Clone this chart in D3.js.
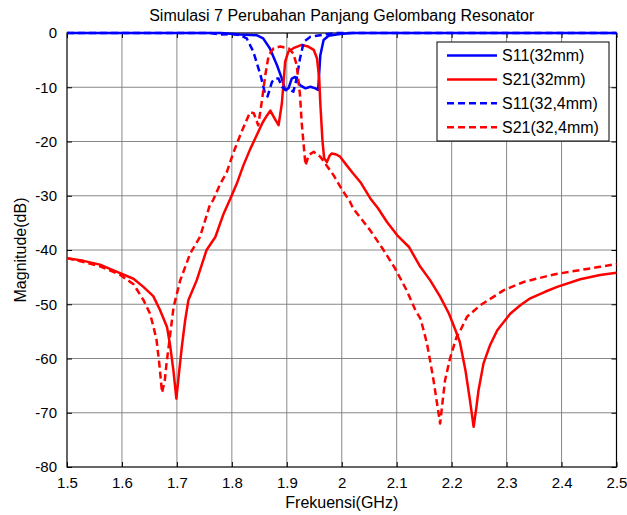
<!DOCTYPE html>
<html>
<head>
<meta charset="utf-8">
<script src="https://cdn.jsdelivr.net/npm/d3@7"></script>
<style>
  body { margin: 0; background: #fff; }
  svg { display: block; font-family: "Liberation Sans", Arial, sans-serif; }
</style>
</head>
<body>
<svg id="chart" width="627" height="515"></svg>
<script>
// Data: [frequency GHz, magnitude dB]
const s11_32 = [
  [1.500, 0], [1.780, 0], [1.815, -0.26], [1.845, -0.4], [1.857, -1.0], [1.869, -2.8],
  [1.882, -5.9], [1.891, -8.4], [1.897, -10.5], [1.903, -10.2], [1.909, -8.4], [1.915, -8.1],
  [1.924, -9.6], [1.934, -10.2], [1.943, -9.9], [1.952, -10.2], [1.957, -10.5], [1.961, -4.1],
  [1.967, -1.3], [1.976, -0.5], [1.997, -0.2], [2.020, 0], [2.500, 0]
];
const s21_32 = [
  [1.500, -41.5], [1.530, -42.0], [1.560, -42.7], [1.590, -44.0], [1.621, -45.3], [1.639, -46.8],
  [1.657, -48.5], [1.669, -51.0], [1.682, -54.2], [1.688, -57.8], [1.694, -62.5], [1.699, -67.4],
  [1.704, -62.5], [1.709, -57.8], [1.715, -53.0], [1.721, -49.2], [1.736, -45.6], [1.754, -40.0],
  [1.770, -37.6], [1.785, -33.3], [1.797, -30.6], [1.810, -27.5], [1.821, -24.4], [1.833, -21.5],
  [1.845, -18.9], [1.856, -16.5], [1.864, -15.2], [1.870, -14.3], [1.878, -15.8], [1.885, -17.0],
  [1.891, -13.0], [1.897, -5.3], [1.903, -3.4], [1.912, -2.8], [1.927, -2.2], [1.939, -2.5],
  [1.949, -3.1], [1.955, -4.7], [1.959, -8.4], [1.961, -13.0], [1.965, -20.0], [1.968, -23.1],
  [1.973, -23.8], [1.978, -22.6], [1.982, -22.2], [1.990, -22.4], [1.997, -22.8], [2.009, -24.4],
  [2.020, -25.8], [2.034, -27.5], [2.052, -30.5], [2.066, -32.3], [2.082, -34.8], [2.101, -37.3],
  [2.122, -39.4], [2.143, -43.1], [2.161, -45.6], [2.179, -48.6], [2.195, -51.7], [2.207, -54.8],
  [2.215, -57.0], [2.225, -62.1], [2.233, -67.5], [2.240, -72.6], [2.245, -69.0], [2.249, -65.8],
  [2.258, -60.9], [2.270, -57.5], [2.283, -54.8], [2.307, -51.7], [2.325, -50.2], [2.343, -48.9],
  [2.370, -47.7], [2.392, -46.8], [2.434, -45.4], [2.470, -44.6], [2.500, -44.2]
];
const s11_324 = [
  [1.500, 0], [1.760, 0], [1.780, -0.3], [1.800, -0.2], [1.815, -0.4], [1.827, -1.0],
  [1.839, -3.4], [1.852, -7.7], [1.861, -11.4], [1.865, -11.7], [1.873, -9.0], [1.879, -8.4],
  [1.885, -8.4], [1.891, -9.9], [1.897, -10.5], [1.906, -10.5], [1.912, -10.8], [1.918, -8.4],
  [1.924, -4.7], [1.931, -1.6], [1.943, -0.7], [1.967, -0.3], [1.990, 0], [2.500, 0]
];
const s21_324 = [
  [1.500, -41.5], [1.530, -42.2], [1.560, -43.0], [1.597, -44.6], [1.621, -46.3], [1.639, -49.2],
  [1.651, -51.7], [1.657, -54.0], [1.663, -56.6], [1.668, -61.0], [1.673, -66.3], [1.678, -64.0],
  [1.681, -61.0], [1.685, -57.8], [1.694, -50.5], [1.706, -45.6], [1.724, -40.7], [1.742, -37.6],
  [1.760, -31.7], [1.766, -30.8], [1.778, -28.0], [1.791, -25.6], [1.803, -22.0], [1.815, -18.9],
  [1.825, -16.5], [1.833, -14.6], [1.840, -14.8], [1.845, -16.2], [1.848, -17.0], [1.854, -13.0],
  [1.861, -7.7], [1.867, -4.1], [1.876, -2.8], [1.888, -2.5], [1.903, -2.8], [1.912, -3.8],
  [1.918, -5.9], [1.924, -11.4], [1.927, -16.4], [1.934, -24.4], [1.940, -22.5], [1.949, -21.9],
  [1.961, -22.8], [1.973, -24.5], [1.985, -26.2], [2.000, -28.8], [2.015, -31.1], [2.021, -32.4],
  [2.036, -34.3], [2.052, -36.4], [2.076, -40.0], [2.097, -43.4], [2.118, -47.4], [2.134, -51.1],
  [2.143, -52.6], [2.149, -54.8], [2.155, -57.2], [2.161, -60.5], [2.167, -64.0], [2.173, -68.0],
  [2.179, -72.0], [2.184, -67.5], [2.188, -64.0], [2.197, -60.0], [2.209, -56.0], [2.216, -54.8],
  [2.228, -52.3], [2.252, -50.2], [2.295, -47.4], [2.331, -45.9], [2.386, -44.5], [2.434, -43.7],
  [2.470, -43.1], [2.500, -42.6]
];

const xTicks = [1.5, 1.6, 1.7, 1.8, 1.9, 2.0, 2.1, 2.2, 2.3, 2.4, 2.5];
const yTicks = [0, -10, -20, -30, -40, -50, -60, -70, -80];

const series = [
  { name: 'S11(32mm)', data: s11_32, color: '#0000ff', dash: null },
  { name: 'S21(32mm)', data: s21_32, color: '#ff0000', dash: null },
  { name: 'S11(32,4mm)', data: s11_324, color: '#0000ff', dash: '7,4' },
  { name: 'S21(32,4mm)', data: s21_324, color: '#ff0000', dash: '7,4' }
];

const svg = d3.select('#chart');
const margin = { top: 33, right: 10.5, bottom: 48, left: 67 };
const width = 627 - margin.left - margin.right;
const height = 515 - margin.top - margin.bottom;

const x = d3.scaleLinear().domain([1.5, 2.5]).range([0, width]);
const y = d3.scaleLinear().domain([-80, 0]).range([height, 0]);

const g = svg.append('g').attr('transform', `translate(${margin.left},${margin.top})`);

// Grid lines
g.append('g')
    .selectAll('line.vgrid')
    .data(xTicks.slice(1, -1))
    .enter().append('line')
    .attr('x1', d => x(d)).attr('x2', d => x(d))
    .attr('y1', 0).attr('y2', height)
    .attr('stroke', '#7a7a7a').attr('stroke-width', 0.9);

g.append('g')
    .selectAll('line.hgrid')
    .data(yTicks.slice(1, -1))
    .enter().append('line')
    .attr('x1', 0).attr('x2', width)
    .attr('y1', d => y(d)).attr('y2', d => y(d))
    .attr('stroke', '#7a7a7a').attr('stroke-width', 0.9);

// Axes, ticks pointing inward (MATLAB style)
const fmt = d => String(+d.toFixed(1));

const xAxis = g.append('g')
    .attr('transform', `translate(0,${height})`)
    .call(d3.axisBottom(x).tickValues(xTicks).tickFormat(fmt).tickSizeInner(-5).tickSizeOuter(0).tickPadding(10));
const xTop = g.append('g')
    .call(d3.axisTop(x).tickValues(xTicks).tickFormat('').tickSizeInner(-5).tickSizeOuter(0));
const yAxis = g.append('g')
    .call(d3.axisLeft(y).tickValues(yTicks).tickFormat(fmt).tickSizeInner(-5).tickSizeOuter(0).tickPadding(10));
const yRight = g.append('g')
    .attr('transform', `translate(${width},0)`)
    .call(d3.axisRight(y).tickValues(yTicks).tickFormat('').tickSizeInner(-5).tickSizeOuter(0));

[xAxis, xTop, yAxis, yRight].forEach(a => {
    a.select('.domain').remove();
    a.selectAll('line').attr('stroke', '#000');
    a.selectAll('text')
        .style('font-size', '15px')
        .style('font-family', '"Liberation Sans", Arial, sans-serif')
        .attr('fill', '#000');
});
xAxis.selectAll('text').attr('dy', '0.72em');

// Box
g.append('rect')
    .attr('x', 0).attr('y', 0)
    .attr('width', width).attr('height', height)
    .attr('fill', 'none').attr('stroke', '#000').attr('stroke-width', 1.2);

// Curves
const line = d3.line()
    .x(d => x(d[0]))
    .y(d => y(d[1]));

g.append('g')
    .selectAll('path')
    .data(series)
    .enter().append('path')
    .attr('d', d => line(d.data))
    .attr('fill', 'none')
    .attr('stroke', d => d.color)
    .attr('stroke-width', 2.5)
    .attr('stroke-linejoin', 'round')
    .attr('stroke-dasharray', d => d.dash);

// Legend
const legend = svg.append('g').attr('transform', 'translate(437,42)');
legend.append('rect')
    .attr('width', 172).attr('height', 99)
    .attr('fill', '#fff').attr('stroke', '#000').attr('stroke-width', 1);

const item = legend.selectAll('g.item')
    .data(series)
    .enter().append('g')
    .attr('transform', (d, i) => `translate(0,${13.5 + i * 23.9})`);

item.append('line')
    .attr('x1', 10).attr('x2', 60)
    .attr('stroke', d => d.color)
    .attr('stroke-width', 2.5)
    .attr('stroke-dasharray', d => d.dash);

item.append('text')
    .attr('x', 65).attr('dy', '0.35em')
    .style('font-size', '16px')
    .text(d => d.name);

// Title and axis labels
svg.append('text')
    .attr('x', margin.left + width / 2).attr('y', 21)
    .attr('text-anchor', 'middle')
    .style('font-size', '16px')
    .text('Simulasi 7 Perubahan Panjang Gelombang Resonator');

svg.append('text')
    .attr('x', margin.left + width / 2).attr('y', 508)
    .attr('text-anchor', 'middle')
    .style('font-size', '16px')
    .text('Frekuensi(GHz)');

svg.append('text')
    .attr('transform', `translate(26,${margin.top + height / 2}) rotate(-90)`)
    .attr('text-anchor', 'middle')
    .style('font-size', '16px')
    .text('Magnitude(dB)');
</script>
</body>
</html>
